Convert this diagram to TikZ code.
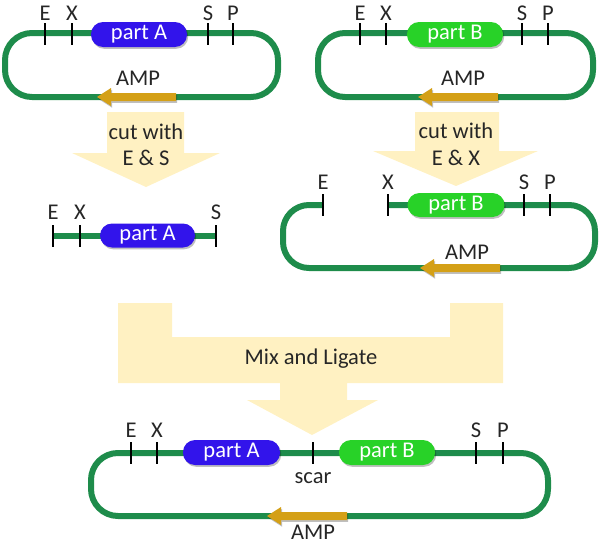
\documentclass[tikz,border=0pt]{standalone}
\usepackage{fontspec}
\setmainfont{Carlito}
\definecolor{dna}{RGB}{30,140,75}
\definecolor{pa}{RGB}{50,20,235}
\definecolor{pb}{RGB}{40,210,40}
\definecolor{ampc}{RGB}{212,160,23}
\definecolor{cutcol}{RGB}{255,241,194}
\newcommand\ampArrow[3]{\fill[ampc, shd] (#1,#3-4) -- (#2+14,#3-4) -- (#2+14,#3-9) -- (#2,#3) -- (#2+14,#3+9) -- (#2+14,#3+4) -- (#1,#3+4) -- cycle;}
\newcommand\dnaTick[2]{\draw[tickline] (#1,#2-11) -- (#1,#2+11);}
\tikzset{
  shd/.style={preaction={draw=none, fill=black, opacity=.25, transform canvas={shift={(1.2,1.8)}}}},
  plasmid/.style={draw=dna, line width=6pt, rounded corners=27pt,
     preaction={draw=black, opacity=.25, transform canvas={shift={(1.2,1.8)}}}},
  tickline/.style={draw=black, line width=2pt},
  lab/.style={font=\fontsize{22.5}{24}\selectfont, inner sep=0pt, text=black!85},
  partbox/.style={rounded corners=12pt, minimum height=25pt, minimum width=96pt,
     text=white, font=\fontsize{22.5}{24}\selectfont, inner sep=0pt, shd},
  cutarrow/.style={fill=cutcol},
}
\begin{document}
\begin{tikzpicture}[x=1pt,y=-1pt]
\useasboundingbox (0,0) rectangle (600,546);

% ---------- top-left plasmid ----------
\draw[plasmid] (5,33) rectangle (278,97);
\ampArrow{176}{97}{97}
\node[partbox, fill=pa] (pA1) at (139,34.5) {part A};
\dnaTick{45}{34}\dnaTick{72}{34}\dnaTick{208}{34}\dnaTick{233}{34}
\node[lab] (e1) at (45,13) {E};
\node[lab] (x1) at (72,13) {X};
\node[lab] (s1) at (208,13) {S};
\node[lab] (p1) at (233,13) {P};
\node[lab] (amp1) at (138,78) {AMP};

% ---------- top-right plasmid ----------
\draw[plasmid] (318,33) rectangle (593,97);
\ampArrow{498}{418}{97}
\node[partbox, fill=pb] (pB1) at (455,34.5) {part B};
\dnaTick{360}{34}\dnaTick{386}{34}\dnaTick{522}{34}\dnaTick{548}{34}
\node[lab] (e2) at (360,13) {E};
\node[lab] (x2) at (386,13) {X};
\node[lab] (s2) at (522,13) {S};
\node[lab] (p2) at (548,13) {P};
\node[lab] (amp2) at (463,78) {AMP};

% ---------- cut arrows ----------
\fill[cutarrow] (107,112) -- (184,112) -- (184,153) -- (220,153) -- (146,187) -- (72,153) -- (107,153) -- cycle;
\node[lab] (c1a) at (146,132) {cut with};
\node[lab] (c1b) at (146,158) {E \& S};
\fill[cutarrow] (415,112) -- (499,112) -- (499,151) -- (538,151) -- (456,186) -- (373,151) -- (415,151) -- cycle;
\node[lab] (c2a) at (456,131) {cut with};
\node[lab] (c2b) at (456,158) {E \& X};

% ---------- linear part A ----------
\draw[plasmid] (53,236) -- (216,236);
\node[partbox, fill=pa, minimum height=24pt, minimum width=95pt] (pA2) at (147.5,235.5) {part A};
\dnaTick{53}{236}\dnaTick{80}{236}\dnaTick{216}{236}
\node[lab] (e3) at (53,212) {E};
\node[lab] (x3) at (80,212) {X};
\node[lab] (s3) at (216,212) {S};

% ---------- cut plasmid B ----------
\draw[plasmid, rounded corners=26pt] (323,205) -- (283,205) -- (283,268) -- (595,268) -- (595,205) -- (388,205);
\ampArrow{500}{420}{268}
\node[partbox, fill=pb, minimum height=24pt, minimum width=97pt] (pB2) at (456,205) {part B};
\dnaTick{323}{205}\dnaTick{388}{205}\dnaTick{524}{205}\dnaTick{550}{205}
\node[lab] (e4) at (323,182) {E};
\node[lab] (x4) at (388,182) {X};
\node[lab] (s4) at (524,182) {S};
\node[lab] (p4) at (550,182) {P};
\node[lab] (amp4) at (467,252) {AMP};

% ---------- mix and ligate ----------
\fill[cutarrow] (118,303) -- (172,303) -- (172,337) -- (450,337) -- (450,303) -- (503,303) -- (503,383) -- (347,383) -- (347,400) -- (378,400) -- (312,435) -- (247,400) -- (280,400) -- (280,383) -- (118,383) -- cycle;
\node[lab] (mix) at (311,359) {Mix and Ligate};

% ---------- final plasmid ----------
\draw[plasmid] (91,453) rectangle (548,516);
\ampArrow{347}{267}{516}
\node[partbox, fill=pa, minimum width=97pt] (pA3) at (231.5,452.5) {part A};
\node[partbox, fill=pb] (pB3) at (387,452.5) {part B};
\dnaTick{131}{453}\dnaTick{157}{453}\dnaTick{313}{453}\dnaTick{476}{453}\dnaTick{503}{453}
\node[lab] (e5) at (131,430) {E};
\node[lab] (x5) at (157,430) {X};
\node[lab] (s5) at (476,430) {S};
\node[lab] (p5) at (503,430) {P};
\node[lab] (scar) at (313,478) {scar};
\node[lab] (amp5) at (313,532) {AMP};
\end{tikzpicture}
\end{document}
